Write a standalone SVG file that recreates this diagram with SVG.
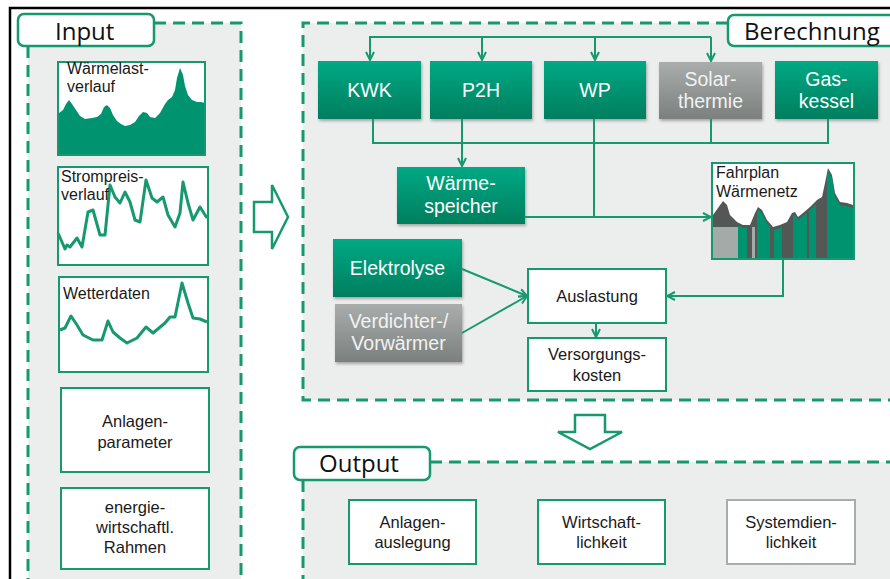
<svg xmlns="http://www.w3.org/2000/svg" width="890" height="579" viewBox="0 0 890 579">
<defs>
<linearGradient id="gGreen" x1="0" y1="0" x2="0" y2="1">
<stop offset="0" stop-color="#00A984"/>
<stop offset="1" stop-color="#007E5E"/>
</linearGradient>
<linearGradient id="gGray" x1="0" y1="0" x2="0" y2="1">
<stop offset="0" stop-color="#A9AEAC"/>
<stop offset="1" stop-color="#7B807E"/>
</linearGradient>
<filter id="sh" x="-10%" y="-10%" width="130%" height="140%">
<feDropShadow dx="1" dy="2" stdDeviation="1.5" flood-color="#000" flood-opacity="0.3"/>
</filter>
<marker id="arr" viewBox="0 0 10 10" refX="9" refY="5" markerWidth="10" markerHeight="10" markerUnits="userSpaceOnUse" orient="auto">
<path d="M1,1 L9,5 L1,9" fill="none" stroke="#17996F" stroke-width="2"/>
</marker>
<clipPath id="fpDark">
<polygon points="713,215 718,208 723,201 727,205 730,215 737,222 743,225 750,225 755,213 758,207 762,210 767,220 773,227 780,225 787,222 792,213 795,212 798,217 803,213 810,207 817,200 822,197 825,183 828,168 832,175 835,193 840,202 847,203 853,205 853,258 713,258"/>
</clipPath>
<clipPath id="fpGreen">
<polygon points="713,218 718,211 723,204 727,208 730,218 737,225 743,228 750,228 755,216 758,210 762,213 767,223 773,230 780,228 787,225 792,216 795,215 798,220 803,216 810,210 817,203 822,200 825,186 828,171 832,178 835,196 840,205 847,206 853,208 853,258 713,258"/>
</clipPath>
</defs>
<style>
.panel{fill:#ECEDED;}
.dash{fill:none;stroke:#17996F;stroke-width:3;stroke-dasharray:12 7;}
.lbl{fill:#fff;stroke:#17996F;stroke-width:2.5;}
.hdr{font-family:"Open Sans","Noto Sans",sans-serif;font-size:24px;fill:#111;}
.gbox{fill:url(#gGreen);filter:url(#sh);}
.graybox{fill:url(#gGray);filter:url(#sh);}
.wbox{fill:#fff;stroke:#17996F;stroke-width:2;}
.wboxg{fill:#fff;stroke:#A8ADAB;stroke-width:2;}
.wt{font-family:"Liberation Sans",Arial,sans-serif;font-size:19.5px;fill:#fff;text-anchor:middle;}
.gt{font-family:"Liberation Sans",Arial,sans-serif;font-size:19.5px;fill:#F2F2F2;text-anchor:middle;}
.bt{font-family:"Liberation Sans",Arial,sans-serif;font-size:16.5px;fill:#1a1a1a;text-anchor:middle;}
.ct{font-family:"Liberation Sans",Arial,sans-serif;font-size:16px;fill:#1a1a1a;}
.conn{fill:none;stroke:#17996F;stroke-width:2;}
.big{fill:#fff;stroke:#17996F;stroke-width:2.5;stroke-linejoin:miter;}
.curve{fill:none;stroke:#17996F;stroke-width:3;stroke-linejoin:round;}
</style>
<rect width="890" height="579" fill="#fff"/>
<!-- frame -->
<path d="M10,579 V8 H890" fill="none" stroke="#000" stroke-width="2.5"/>

<!-- Input panel -->
<g id="input-panel">
<rect class="panel" x="28" y="23" width="213" height="556"/>
<path class="dash" d="M154,23 H241 V579"/>
<path class="dash" d="M28,46 V579"/>
<rect class="lbl" x="18" y="14" width="136" height="32" rx="6"/>
<text class="hdr" x="55" y="40">Input</text>
</g>

<!-- Berechnung panel -->
<g id="berechnung-panel">
<rect class="panel" x="303" y="23" width="587" height="377"/>
<path class="dash" d="M728,23 H303 V400 H890"/>
<rect class="lbl" x="728" y="15" width="175" height="31" rx="6"/>
<text class="hdr" x="744" y="40">Berechnung</text>
</g>

<!-- Output panel -->
<g id="output-panel">
<rect class="panel" x="303" y="462" width="587" height="117"/>
<path class="dash" d="M430,462 H890"/>
<path class="dash" d="M303,480 V579"/>
<rect class="lbl" x="294" y="447" width="136" height="33" rx="6"/>
<text class="hdr" x="319" y="472">Output</text>
</g>

<!-- Input nodes -->
<g id="waermelast">
<rect x="58" y="62" width="147" height="93" fill="#fff"/>
<polygon fill="#00936F" points="59,113 63,110 66,104 69,100 72,104 76,110 80,116 85,119 92,118 97,117 101,114 104,107 107,105 110,108 113,115 117,121 121,124 125,126 130,125 135,122 139,116 143,112 147,113 150,117 155,118 160,113 165,104 168,100 172,97 175,90 177,78 180,68 183,75 185,86 188,95 192,100 197,102 201,102 205,103 205,155 59,155"/>
<rect x="58" y="62" width="147" height="93" fill="none" stroke="#17996F" stroke-width="2"/>
<text class="ct" x="67" y="74">Wärmelast-</text>
<text class="ct" x="67" y="92">verlauf</text>
</g>
<g id="strompreis">
<rect class="wbox" x="58" y="167" width="150" height="98"/>
<polyline class="curve" points="58,233 65,249 67,245 70,247 77,238 82,247 88,212 93,210 100,235 105,235 110,185 115,197 120,203 125,192 130,202 135,220 140,222 146,180 152,198 157,202 163,197 168,215 175,227 180,213 183,182 188,203 193,220 200,207 207,218"/>
<text class="ct" x="61" y="182">Strompreis-</text>
<text class="ct" x="61" y="200">verlauf</text>
</g>
<g id="wetterdaten">
<rect class="wbox" x="59" y="277" width="149" height="95"/>
<polyline class="curve" points="60,330 65,328 71,316 77,325 83,335 93,340 102,340 108,321 113,332 120,338 127,343 137,338 146,327 153,333 165,323 170,317 175,317 182,283 188,303 193,318 200,319 207,322"/>
<text class="ct" x="63" y="299">Wetterdaten</text>
</g>
<g id="anlagenparameter">
<rect class="wbox" x="61" y="388" width="148" height="84"/>
<text class="bt" x="135" y="427">Anlagen-</text>
<text class="bt" x="135" y="448">parameter</text>
</g>
<g id="rahmen">
<rect class="wbox" x="61" y="488" width="148" height="81"/>
<text class="bt" x="135" y="513">energie-</text>
<text class="bt" x="135" y="533">wirtschaftl.</text>
<text class="bt" x="135" y="553">Rahmen</text>
</g>

<!-- big arrows -->
<g id="arrow-right">
<polygon class="big" points="254,202 272,202 272,185 288,217 272,249 272,232 254,232"/>
</g>
<g id="arrow-down">
<polygon class="big" points="575,415 605,415 605,432 622,432 590,449 558,432 575,432"/>
</g>

<!-- Berechnung nodes -->
<g id="kwk">
<rect class="gbox" x="318" y="61" width="103" height="58"/>
<text class="wt" x="369.5" y="97">KWK</text>
</g>
<g id="p2h">
<rect class="gbox" x="430" y="61" width="102" height="58"/>
<text class="wt" x="481" y="97">P2H</text>
</g>
<g id="wp">
<rect class="gbox" x="544" y="61" width="102" height="58"/>
<text class="wt" x="595" y="97">WP</text>
</g>
<g id="solarthermie">
<rect class="graybox" x="659" y="62" width="103" height="57"/>
<text class="gt" x="710.5" y="86">Solar-</text>
<text class="gt" x="710.5" y="108">thermie</text>
</g>
<g id="gaskessel">
<rect class="gbox" x="775" y="61" width="103" height="58"/>
<text class="wt" x="826.5" y="86">Gas-</text>
<text class="wt" x="826.5" y="108">kessel</text>
</g>
<g id="waermespeicher">
<rect class="gbox" x="397" y="167" width="128" height="57"/>
<text class="wt" x="461" y="190">Wärme-</text>
<text class="wt" x="461" y="213">speicher</text>
</g>
<g id="fahrplan">
<rect x="712" y="163" width="142" height="96" fill="#fff"/>
<g clip-path="url(#fpDark)">
<rect x="712" y="160" width="142" height="100" fill="#535857"/>
</g>
<g clip-path="url(#fpGreen)" fill="#00936F">
<rect x="738" y="160" width="9" height="100"/>
<rect x="757" y="160" width="13" height="100"/>
<rect x="774" y="160" width="8" height="100"/>
<rect x="793" y="160" width="14" height="100"/>
<rect x="809" y="160" width="7" height="100"/>
<rect x="827" y="160" width="27" height="100"/>
</g>
<rect x="713" y="227" width="25" height="32" fill="#A4AAA8"/>
<rect x="752" y="227" width="3" height="32" fill="#A4AAA8"/>
<rect x="712" y="163" width="142" height="96" fill="none" stroke="#17996F" stroke-width="2"/>
<text class="ct" x="716" y="178">Fahrplan</text>
<text class="ct" x="716" y="197">Wärmenetz</text>
</g>
<g id="elektrolyse">
<rect class="gbox" x="333" y="239" width="129" height="58"/>
<text class="wt" x="397.5" y="275">Elektrolyse</text>
</g>
<g id="verdichter">
<rect class="graybox" x="335" y="304" width="127" height="58"/>
<text class="gt" x="398.5" y="328">Verdichter-/</text>
<text class="gt" x="398.5" y="350">Vorwärmer</text>
</g>
<g id="auslastung">
<rect class="wbox" x="528" y="269" width="138" height="54"/>
<text class="bt" x="597" y="302">Auslastung</text>
</g>
<g id="versorgungskosten">
<rect class="wbox" x="528" y="338" width="138" height="53"/>
<text class="bt" x="597" y="360">Versorgungs-</text>
<text class="bt" x="597" y="381">kosten</text>
</g>

<!-- Output nodes -->
<g id="anlagenauslegung">
<rect class="wbox" x="349" y="500" width="127" height="64"/>
<text class="bt" x="412.5" y="528">Anlagen-</text>
<text class="bt" x="412.5" y="548">auslegung</text>
</g>
<g id="wirtschaftlichkeit">
<rect class="wbox" x="538" y="500" width="127" height="64"/>
<text class="bt" x="601.5" y="528">Wirtschaft-</text>
<text class="bt" x="601.5" y="548">lichkeit</text>
</g>
<g id="systemdienlichkeit">
<rect class="wboxg" x="727" y="500" width="128" height="64"/>
<text class="bt" x="791" y="528">Systemdien-</text>
<text class="bt" x="791" y="548">lichkeit</text>
</g>

<!-- connectors -->
<g id="connectors">
<path class="conn" d="M370,60 V37 H711"/>
<path class="conn" d="M370,37 V60" marker-end="url(#arr)"/>
<path class="conn" d="M482,37 V60" marker-end="url(#arr)"/>
<path class="conn" d="M595,37 V60" marker-end="url(#arr)"/>
<path class="conn" d="M711,37 V61" marker-end="url(#arr)"/>
<path class="conn" d="M373,119 V143 H828 V119"/>
<path class="conn" d="M711,119 V143"/>
<path class="conn" d="M462,119 V166" marker-end="url(#arr)"/>
<path class="conn" d="M594,119 V217"/>
<path class="conn" d="M525,217 H711" marker-end="url(#arr)"/>
<path class="conn" d="M783,259 V296 H667" marker-end="url(#arr)"/>
<path class="conn" d="M462,269 L527,296" marker-end="url(#arr)"/>
<path class="conn" d="M462,333 L527,296" marker-end="url(#arr)"/>
<path class="conn" d="M596,323 V337" marker-end="url(#arr)"/>
</g>
</svg>
